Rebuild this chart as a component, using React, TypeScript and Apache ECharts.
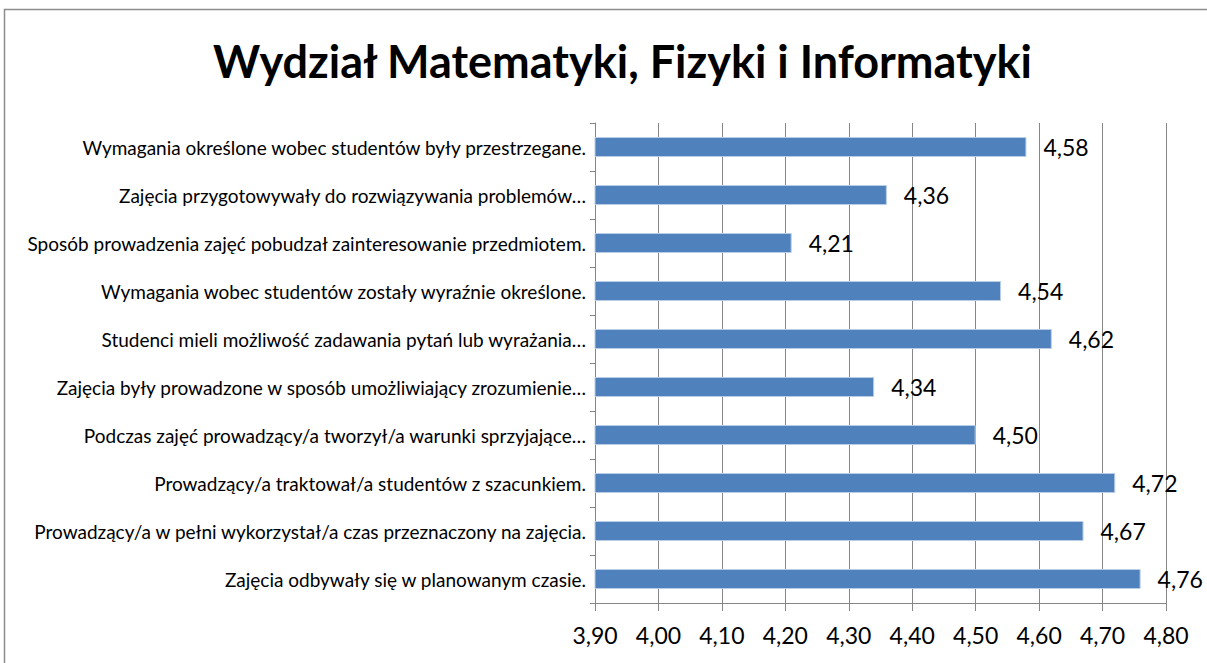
import React, { useEffect, useRef } from "react";
import * as echarts from "echarts";

const title = "Wydział Matematyki, Fizyki i Informatyki";

const categories = [
  "Wymagania określone wobec studentów były przestrzegane.",
  "Zajęcia przygotowywały do rozwiązywania problemów…",
  "Sposób prowadzenia zajęć pobudzał zainteresowanie przedmiotem.",
  "Wymagania wobec studentów zostały wyraźnie określone.",
  "Studenci mieli możliwość zadawania pytań lub wyrażania…",
  "Zajęcia były prowadzone w sposób umożliwiający zrozumienie…",
  "Podczas zajęć prowadzący/a tworzył/a warunki sprzyjające…",
  "Prowadzący/a traktował/a studentów z szacunkiem.",
  "Prowadzący/a w pełni wykorzystał/a czas przeznaczony na zajęcia.",
  "Zajęcia odbywały się w planowanym czasie.",
];

const values = [4.58, 4.36, 4.21, 4.54, 4.62, 4.34, 4.5, 4.72, 4.67, 4.76];

const axisMin = 3.9;
const axisMax = 4.8;
const axisInterval = 0.1;

const FONT = "Lato";
const fmt = (v: number) => v.toFixed(2).replace(".", ",");

export default function App() {
  const ref = useRef<HTMLDivElement>(null);
  useEffect(() => {
    if (!ref.current) return;
    const chart = echarts.init(ref.current, undefined, { renderer: "svg" });
    chart.setOption({
      animation: false,
      backgroundColor: "#ffffff",
      textStyle: { fontFamily: FONT },
      title: {
        text: title,
        left: 208,
        top: 33,
        textStyle: { fontFamily: FONT, fontWeight: "bold", fontSize: 45, color: "#000" },
      },
      graphic: [
        {
          type: "rect",
          shape: { x: 4.5, y: 9.5, width: 1240, height: 700 },
          style: { fill: "none", stroke: "#8c8c8c", lineWidth: 1.5 },
          silent: true,
        },
      ],
      grid: { left: 595, right: 41, top: 123, bottom: 60, containLabel: false },
      xAxis: {
        type: "value",
        min: axisMin,
        max: axisMax,
        interval: axisInterval,
        axisLine: { show: true, lineStyle: { color: "#868686", width: 1 } },
        axisTick: { show: true, length: 8, lineStyle: { color: "#868686" } },
        splitLine: { show: true, lineStyle: { color: "#868686", width: 1 } },
        axisLabel: {
          formatter: (v: number) => fmt(v),
          fontFamily: FONT,
          fontSize: 23,
          color: "#000",
          margin: 20,
        },
      },
      yAxis: {
        type: "category",
        data: categories,
        inverse: true,
        axisLine: { show: true, lineStyle: { color: "#868686", width: 1 } },
        axisTick: { show: true, length: 5, lineStyle: { color: "#868686" } },
        axisLabel: { fontFamily: FONT, fontSize: 19, color: "#000", margin: 9 },
      },
      series: [
        {
          type: "bar",
          data: values,
          barWidth: 20,
          itemStyle: { color: "#4F81BD", borderColor: "#B9CDE5", borderWidth: 1 },
          label: {
            show: true,
            position: "right",
            distance: 17,
            formatter: (p: any) => fmt(p.value),
            fontFamily: FONT,
            fontSize: 23,
            color: "#000",
          },
        },
      ],
    });
    return () => chart.dispose();
  }, []);
  return (
    <div
      ref={ref}
      style={{ position: "fixed", left: 0, top: 0, width: 1207, height: 663 }}
    />
  );
}
